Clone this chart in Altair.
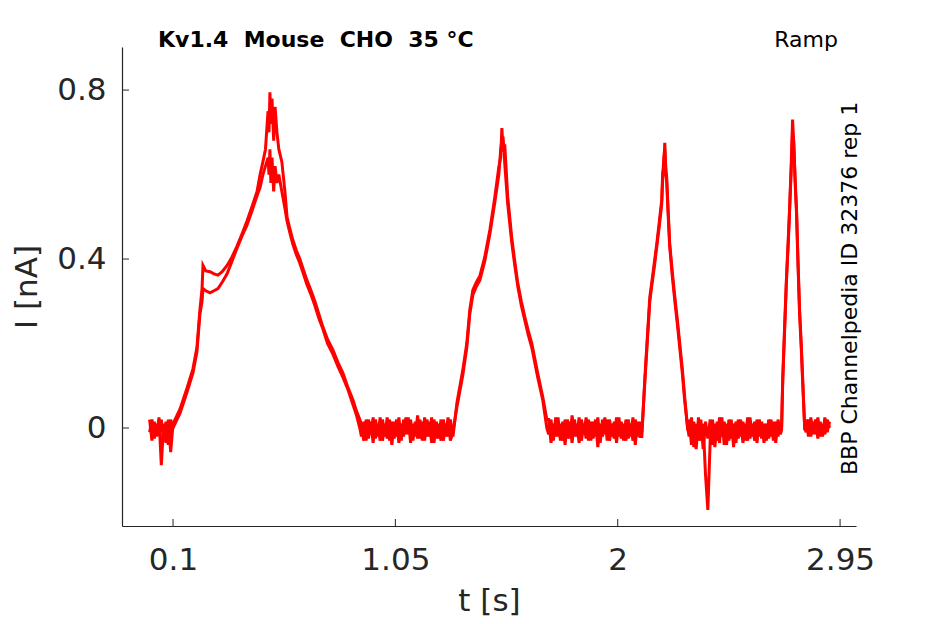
import altair as alt
import pandas as pd

# ---------------- data ----------------
# ramp shapes (t in s, I in nA) for two overlapping sweeps (A, B)
R1_t = [0.100, 0.130, 0.160, 0.185, 0.202, 0.215, 0.224, 0.228, 0.240, 0.258, 0.275, 0.292,
        0.310, 0.331, 0.352, 0.373, 0.395, 0.416, 0.438, 0.459, 0.472, 0.484, 0.495, 0.506,
        0.510, 0.514, 0.518, 0.523, 0.530, 0.536, 0.544, 0.552, 0.565, 0.578, 0.587, 0.600,
        0.612, 0.627, 0.642, 0.657, 0.672, 0.690, 0.706, 0.723, 0.740, 0.760, 0.783, 0.805,
        0.826, 0.848, 0.869, 0.884, 0.898]
R1_A = [0.01, 0.045, 0.095, 0.14, 0.19, 0.28, 0.33, 0.385, 0.372, 0.37, 0.365, 0.362,
        0.37, 0.385, 0.405, 0.43, 0.46, 0.49, 0.525, 0.56, 0.60, 0.63, 0.66, 0.75,
        0.70, 0.795, 0.72, 0.78, 0.68, 0.76, 0.70, 0.66, 0.63, 0.56, 0.50, 0.47,
        0.445, 0.42, 0.40, 0.375, 0.35, 0.325, 0.30, 0.27, 0.24, 0.21, 0.185, 0.155,
        0.13, 0.095, 0.066, 0.04, 0.02]
R1_B = [0.0, 0.035, 0.085, 0.13, 0.18, 0.27, 0.30, 0.33, 0.325, 0.32, 0.325, 0.33,
        0.345, 0.365, 0.395, 0.425, 0.455, 0.48, 0.515, 0.55, 0.57, 0.60, 0.62, 0.64,
        0.60, 0.66, 0.58, 0.64, 0.56, 0.62, 0.58, 0.60, 0.56, 0.52, 0.49, 0.46,
        0.435, 0.41, 0.39, 0.365, 0.34, 0.315, 0.29, 0.26, 0.235, 0.20, 0.175, 0.145,
        0.12, 0.09, 0.055, 0.03, 0.0]

R2_t = [1.296, 1.313, 1.338, 1.355, 1.368, 1.381, 1.396, 1.411, 1.432, 1.454, 1.475, 1.492,
        1.500, 1.505, 1.510, 1.518, 1.530, 1.547, 1.560, 1.573, 1.588, 1.603, 1.618, 1.633,
        1.658, 1.680, 1.697]
R2_A = [-0.02, 0.06, 0.137, 0.20, 0.28, 0.327, 0.345, 0.36, 0.405, 0.47, 0.547, 0.618,
        0.64, 0.71, 0.66, 0.665, 0.547, 0.452, 0.395, 0.343, 0.30, 0.263, 0.23, 0.20,
        0.13, 0.073, 0.02]
R2_B = [-0.01, 0.05, 0.125, 0.19, 0.27, 0.315, 0.335, 0.35, 0.395, 0.46, 0.535, 0.60,
        0.66, 0.68, 0.69, 0.62, 0.53, 0.44, 0.385, 0.335, 0.29, 0.255, 0.22, 0.19,
        0.12, 0.065, 0.0]

R3_t = [2.103, 2.116, 2.127, 2.137, 2.145, 2.156, 2.167, 2.178, 2.188, 2.192, 2.197, 2.201,
        2.205, 2.209, 2.215, 2.222, 2.233, 2.244, 2.255, 2.265, 2.276, 2.286, 2.299]
R3_A = [-0.02, 0.12, 0.22, 0.31, 0.343, 0.39, 0.437, 0.49, 0.54, 0.603, 0.62, 0.675,
        0.62, 0.595, 0.52, 0.437, 0.37, 0.31, 0.255, 0.20, 0.14, 0.074, -0.005]
R3_B = [-0.01, 0.11, 0.21, 0.30, 0.335, 0.38, 0.43, 0.48, 0.53, 0.59, 0.64, 0.66,
        0.60, 0.585, 0.51, 0.43, 0.36, 0.30, 0.245, 0.19, 0.13, 0.065, 0.0]

R4_t = [2.700, 2.705, 2.713, 2.721, 2.728, 2.734, 2.741, 2.747, 2.752, 2.758, 2.764, 2.770,
        2.777, 2.784, 2.790, 2.799]
R4_A = [-0.005, 0.12, 0.24, 0.357, 0.44, 0.516, 0.62, 0.73, 0.67, 0.59, 0.516, 0.40,
        0.28, 0.20, 0.12, -0.005]
R4_B = [0.0, 0.11, 0.23, 0.35, 0.43, 0.51, 0.61, 0.70, 0.68, 0.58, 0.505, 0.39,
        0.27, 0.19, 0.11, 0.0]

# baseline (holding) segments: start time, sample step, noisy values
BASE_START = [0.000, 0.905, 1.705, 2.305, 2.805]
BASE_STEP = 0.01
BASE_A = [
    [0.02, -0.03, 0.015, -0.02, 0.025, -0.088, 0.01, -0.035, 0.02, -0.057],
    [0.01, -0.03, 0.02, -0.025, 0.015, -0.035, 0.02, -0.02, 0.025, -0.03, 0.01, -0.025, 0.02,
     -0.04, 0.015, -0.02, 0.025, -0.03, 0.02, -0.015, 0.025, -0.035, 0.01, -0.02, 0.03, -0.025,
     0.015, -0.03, 0.02, -0.02, 0.025, -0.035, 0.015, -0.025, 0.02, -0.03, 0.01, -0.02, 0.02],
    [0.02, -0.035, 0.01, -0.02, 0.025, -0.03, 0.015, -0.04, 0.02, -0.025, 0.03, -0.02, 0.01,
     -0.035, 0.02, -0.015, 0.025, -0.03, 0.015, -0.025, 0.02, -0.045, 0.01, -0.02, 0.025, -0.03,
     0.02, -0.02, 0.015, -0.035, 0.025, -0.025, 0.01, -0.03, 0.02, -0.02, 0.025, -0.04, 0.015, -0.02],
    [0.02, -0.04, 0.015, -0.05, 0.025, -0.03, 0.01, -0.11, -0.194, -0.03, 0.02, -0.045, 0.015,
     -0.035, 0.025, -0.04, 0.01, -0.03, 0.02, -0.045, 0.015, -0.025, 0.02, -0.035, 0.01, -0.03,
     0.025, -0.02, 0.015, -0.035, 0.02, -0.025, 0.01, -0.03, 0.02, -0.02, 0.015, -0.035, 0.02, -0.015],
    [0.02, -0.02, 0.025, -0.015, 0.02, -0.025, 0.015, -0.02, 0.025, -0.01, 0.015],
]
BASE_B = [
    [-0.01, 0.02, -0.025, 0.01, -0.015, 0.02, -0.03, 0.015, -0.04, 0.02],
    [-0.02, 0.015, -0.03, 0.02, -0.015, 0.025, -0.025, 0.01, -0.03, 0.02, -0.02, 0.025, -0.03,
     0.015, -0.025, 0.02, -0.035, 0.01, -0.02, 0.025, -0.015, 0.02, -0.03, 0.015, -0.025, 0.02,
     -0.03, 0.025, -0.02, 0.015, -0.035, 0.02, -0.025, 0.01, -0.03, 0.02, -0.02, 0.025, -0.03],
    [-0.015, 0.02, -0.03, 0.025, -0.02, 0.01, -0.03, 0.02, -0.025, 0.015, -0.035, 0.02, -0.02,
     0.025, -0.03, 0.01, -0.025, 0.02, -0.03, 0.015, -0.02, 0.025, -0.035, 0.02, -0.015, 0.02,
     -0.03, 0.01, -0.025, 0.025, -0.02, 0.015, -0.03, 0.02, -0.025, 0.01, -0.03, 0.02, -0.02, 0.015],
    [-0.02, 0.025, -0.045, 0.01, -0.03, 0.02, -0.05, 0.015, -0.025, 0.02, -0.04, 0.01, -0.03,
     0.025, -0.02, 0.015, -0.04, 0.02, -0.025, 0.01, -0.035, 0.02, -0.02, 0.015, -0.03, 0.025,
     -0.025, 0.01, -0.03, 0.02, -0.02, 0.015, -0.035, 0.01, -0.025, 0.02, -0.03, 0.015, -0.02, 0.01],
    [-0.01, 0.02, -0.02, 0.015, -0.015, 0.025, -0.02, 0.01, -0.015, 0.02, 0.0],
]

X_TICKS = [0.1, 1.05, 2, 2.95]
Y_TICKS = [0, 0.4, 0.8]
X_DOMAIN = [-0.118, 3.018]
Y_DOMAIN = [-0.232, 0.902]

NB = "\u00a0"
TITLE = f"Kv1.4 {NB}Mouse {NB}CHO {NB}35 °C"
PROTOCOL = "Ramp"
SOURCE = "BBP Channelpedia ID 32376 rep 1"

# ---------------- build table ----------------
rows = []
ramps_t = [R1_t, R2_t, R3_t, R4_t]
for name, base, ramps in [("A", BASE_A, [R1_A, R2_A, R3_A, R4_A]),
                          ("B", BASE_B, [R1_B, R2_B, R3_B, R4_B])]:
    seq = []
    for k in range(5):
        seq += [(BASE_START[k] + i * BASE_STEP, v) for i, v in enumerate(base[k])]
        if k < 4:
            seq += list(zip(ramps_t[k], ramps[k]))
    for j, (t, v) in enumerate(seq):
        rows.append({"t": t, "I": v, "sweep": name, "k": j})
df = pd.DataFrame(rows)

W, H = 734, 479
DARK = "#262626"
FONT = "DejaVu Sans"

xscale = alt.Scale(domain=X_DOMAIN, nice=False, zero=False)
yscale = alt.Scale(domain=Y_DOMAIN, nice=False, zero=False)

LBL = "format(datum.value, '~g')"
xaxis = alt.Axis(values=X_TICKS, labelExpr=LBL, ticks=False, grid=False,
                 labelPadding=19, titlePadding=11, labelFontSize=31, titleFontSize=31)
yaxis = alt.Axis(values=Y_TICKS, labelExpr=LBL, ticks=False, grid=False,
                 labelPadding=16, titlePadding=13, labelFontSize=31, titleFontSize=31)

trace = alt.Chart(df).mark_line(color="#ff0000", strokeWidth=3, clip=True).encode(
    x=alt.X("t:Q", scale=xscale, title="t [s]", axis=xaxis),
    y=alt.Y("I:Q", scale=yscale, title="I [nA]", axis=yaxis),
    detail="sweep:N",
    order="k:Q",
)

xt = alt.Chart(pd.DataFrame({"t": X_TICKS})).mark_rule(color=DARK, strokeWidth=1).encode(
    x=alt.X("t:Q", scale=xscale, title="t [s]", axis=xaxis), y=alt.value(H), y2=alt.value(H - 7))
yt = alt.Chart(pd.DataFrame({"I": Y_TICKS})).mark_rule(color=DARK, strokeWidth=1).encode(
    y=alt.Y("I:Q", scale=yscale, title="I [nA]", axis=yaxis), x=alt.value(0), x2=alt.value(7))

ann = pd.DataFrame({"a": [0]})
t_title = alt.Chart(ann).mark_text(text=TITLE, font=FONT, fontSize=22, fontWeight="bold",
                                   color="black", align="left", baseline="alphabetic").encode(
    x=alt.value(36), y=alt.value(0))
t_proto = alt.Chart(ann).mark_text(text=PROTOCOL, font=FONT, fontSize=22, color="black",
                                   align="right", baseline="alphabetic").encode(
    x=alt.value(716), y=alt.value(0))
t_src = alt.Chart(ann).mark_text(text=SOURCE, font=FONT, fontSize=22, color="black",
                                 align="left", baseline="alphabetic", angle=270).encode(
    x=alt.value(735), y=alt.value(428))

chart = alt.layer(trace, xt, yt, t_title, t_proto, t_src).properties(
    width=W, height=H,
    autosize=alt.AutoSizeParams(type="none"),
    padding={"left": 114, "top": 39, "right": 80, "bottom": 90},
    background="white",
).configure_view(stroke=None).configure_axis(
    domainColor=DARK, domainWidth=1.2, labelColor=DARK, titleColor=DARK,
    labelFont=FONT, titleFont=FONT, titleFontWeight="normal",
)

chart.save("out.html", embed_options={"renderer": "svg", "actions": False})
